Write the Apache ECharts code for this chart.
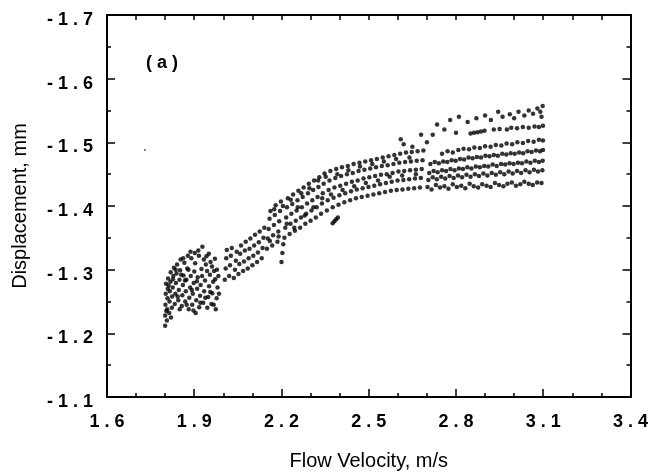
<!DOCTYPE html>
<html>
<head>
<meta charset="utf-8">
<script src="https://cdn.jsdelivr.net/npm/echarts@6/dist/echarts.min.js"></script>
<style>
html,body{margin:0;padding:0;background:#fff;}
#chart{width:651px;height:476px;}
</style>
</head>
<body>
<div id="chart"></div>
<script>
// Tick labels
const xTicks = [1.6, 1.9, 2.2, 2.5, 2.8, 3.1, 3.4];
const yTicks = [-1.7, -1.6, -1.5, -1.4, -1.3, -1.2, -1.1];

const segA = [
[1.800,-1.212],[1.800,-1.228],[1.801,-1.245],[1.802,-1.262],[1.803,-1.278],
[1.806,-1.220],[1.807,-1.238],[1.808,-1.255],[1.809,-1.270],[1.810,-1.286],
[1.814,-1.232],[1.815,-1.250],[1.816,-1.266],[1.818,-1.281],[1.819,-1.296],
[1.823,-1.240],[1.824,-1.258],[1.826,-1.272],[1.828,-1.290],[1.830,-1.303],
[1.833,-1.246],[1.835,-1.262],[1.837,-1.279],[1.839,-1.294],[1.841,-1.308],
[1.845,-1.252],[1.847,-1.268],[1.849,-1.284],[1.851,-1.299],[1.853,-1.316],
[1.857,-1.243],[1.859,-1.260],[1.861,-1.276],[1.863,-1.291],[1.866,-1.311],
[1.869,-1.250],[1.871,-1.266],[1.873,-1.284],[1.876,-1.302],[1.878,-1.322],
[1.881,-1.238],[1.883,-1.256],[1.886,-1.272],[1.888,-1.290],[1.890,-1.318],
[1.893,-1.245],[1.895,-1.262],[1.898,-1.279],[1.900,-1.297],[1.902,-1.326],
[1.905,-1.232],[1.907,-1.252],[1.910,-1.270],[1.912,-1.288],[1.914,-1.330],
[1.917,-1.241],[1.920,-1.259],[1.922,-1.276],[1.925,-1.301],[1.928,-1.336],
[1.931,-1.248],[1.934,-1.266],[1.937,-1.283],[1.940,-1.308],[1.942,-1.321],
[1.945,-1.240],[1.948,-1.257],[1.951,-1.274],[1.954,-1.292],[1.956,-1.312],
[1.959,-1.246],[1.962,-1.263],[1.965,-1.281],[1.968,-1.298],[1.971,-1.317],
[1.974,-1.238],[1.977,-1.255],[1.980,-1.272],[1.983,-1.290]
];
const segA2 = [
[1.804,-1.235],[1.812,-1.275],[1.820,-1.225],[1.827,-1.285],[1.836,-1.300],[1.843,-1.258],
[1.850,-1.238],[1.855,-1.292],[1.862,-1.318],[1.868,-1.283],[1.874,-1.245],[1.880,-1.300],
[1.887,-1.328],[1.892,-1.268],[1.897,-1.236],[1.903,-1.310],[1.909,-1.282],[1.916,-1.322],
[1.921,-1.248],[1.927,-1.290],[1.933,-1.316],[1.938,-1.256],[1.944,-1.298],[1.950,-1.325],
[1.955,-1.265],[1.961,-1.305],[1.967,-1.245],[1.972,-1.285],[1.978,-1.300],[1.985,-1.262]
];
const segB = [
[2.005,-1.284],[2.008,-1.302],[2.010,-1.318],[2.012,-1.331],
[2.020,-1.290],[2.023,-1.307],[2.026,-1.322],[2.029,-1.334],
[2.036,-1.287],[2.040,-1.300],[2.043,-1.314],[2.046,-1.328],
[2.052,-1.293],[2.055,-1.309],[2.058,-1.325],[2.061,-1.338],
[2.068,-1.298],[2.071,-1.313],[2.074,-1.330],[2.077,-1.344],
[2.084,-1.302],[2.087,-1.318],[2.090,-1.333],[2.093,-1.349],
[2.100,-1.307],[2.103,-1.322],[2.106,-1.338],[2.109,-1.355],
[2.116,-1.312],[2.119,-1.327],[2.122,-1.343],[2.125,-1.360],
[2.132,-1.318],[2.135,-1.334],[2.138,-1.350],[2.141,-1.366]
];
const segC = [
[2.150,-1.333],[2.153,-1.349],[2.156,-1.364],[2.159,-1.380],[2.162,-1.392],
[2.168,-1.338],[2.171,-1.354],[2.174,-1.370],[2.177,-1.386],[2.180,-1.401],
[2.186,-1.344],[2.189,-1.360],[2.192,-1.376],[2.195,-1.392],[2.198,-1.407],
[2.200,-1.312],[2.203,-1.326],[2.206,-1.340],
[2.210,-1.350],[2.213,-1.366],[2.216,-1.382],[2.219,-1.398],[2.222,-1.412],
[2.228,-1.356],[2.231,-1.372],[2.234,-1.388],[2.237,-1.403],[2.240,-1.418],
[2.246,-1.361],[2.249,-1.377],[2.252,-1.393],[2.255,-1.409],[2.258,-1.424],
[2.264,-1.366],[2.267,-1.382],[2.270,-1.398],[2.273,-1.414],[2.276,-1.429],
[2.282,-1.372],[2.285,-1.388],[2.288,-1.404],[2.291,-1.420],[2.294,-1.435],
[2.300,-1.377],[2.303,-1.393],[2.306,-1.409],[2.309,-1.425],[2.312,-1.440],
[2.318,-1.382],[2.321,-1.398],[2.324,-1.414],[2.327,-1.430],[2.330,-1.445],
[2.336,-1.388],[2.339,-1.404],[2.342,-1.420],[2.345,-1.435],[2.348,-1.451]
];
const segC2 = [
[2.160,-1.345],[2.175,-1.395],[2.190,-1.352],[2.205,-1.400],[2.218,-1.372],[2.232,-1.410],
[2.244,-1.366],[2.256,-1.398],[2.268,-1.420],[2.280,-1.385],[2.296,-1.428],[2.310,-1.398],
[2.326,-1.440],[2.340,-1.412],[2.352,-1.446],[2.370,-1.418],[2.392,-1.450],[2.410,-1.425],
[2.430,-1.456],[2.450,-1.431],[2.470,-1.462],[2.490,-1.436],[2.512,-1.466],[2.532,-1.440],
[2.552,-1.470],[2.572,-1.446],[2.594,-1.474],[2.615,-1.448],[2.640,-1.476],[2.662,-1.450]
];
const segD = [
[2.356,-1.393],[2.359,-1.409],[2.362,-1.425],[2.365,-1.440],[2.368,-1.455],
[2.376,-1.373],[2.382,-1.376],[2.388,-1.379],[2.394,-1.382],
[2.376,-1.398],[2.379,-1.413],[2.382,-1.429],[2.385,-1.444],[2.388,-1.458],
[2.396,-1.402],[2.399,-1.417],[2.402,-1.432],[2.405,-1.447],[2.408,-1.461],
[2.416,-1.406],[2.419,-1.420],[2.422,-1.435],[2.425,-1.450],[2.428,-1.463],
[2.436,-1.409],[2.439,-1.423],[2.442,-1.438],[2.445,-1.452],[2.448,-1.466],
[2.456,-1.412],[2.459,-1.426],[2.462,-1.440],[2.465,-1.455],[2.468,-1.468],
[2.476,-1.414],[2.479,-1.428],[2.482,-1.443],[2.485,-1.457],[2.488,-1.470],
[2.496,-1.416],[2.499,-1.430],[2.502,-1.445],[2.505,-1.459],[2.508,-1.472],
[2.516,-1.418],[2.519,-1.432],[2.522,-1.447],[2.525,-1.461],[2.528,-1.474],
[2.536,-1.420],[2.539,-1.434],[2.542,-1.449],[2.545,-1.463],[2.548,-1.476]
];
const segE = [
[2.556,-1.422],[2.559,-1.436],[2.562,-1.450],[2.565,-1.464],[2.568,-1.478],
[2.576,-1.424],[2.579,-1.438],[2.582,-1.452],[2.585,-1.466],[2.588,-1.480],
[2.596,-1.425],[2.599,-1.440],[2.602,-1.454],[2.605,-1.468],[2.608,-1.482],
[2.616,-1.426],[2.619,-1.441],[2.622,-1.455],[2.625,-1.469],[2.628,-1.484],
[2.636,-1.427],[2.639,-1.442],[2.642,-1.456],[2.645,-1.470],[2.648,-1.485],
[2.656,-1.428],[2.659,-1.443],[2.662,-1.457],[2.665,-1.471],[2.668,-1.486],
[2.676,-1.429],[2.679,-1.444],[2.682,-1.458],[2.685,-1.472],[2.688,-1.487],
[2.610,-1.505],[2.650,-1.493],[2.680,-1.512],[2.700,-1.500],[2.620,-1.497]
];
const bandA = [
[2.702,-1.430],[2.716,-1.426],[2.731,-1.433],[2.745,-1.429],[2.760,-1.431],[2.774,-1.427],[2.789,-1.434],
[2.803,-1.430],[2.818,-1.432],[2.832,-1.428],[2.847,-1.435],[2.861,-1.431],[2.876,-1.429],[2.890,-1.434],
[2.905,-1.432],[2.919,-1.430],[2.934,-1.436],[2.948,-1.433],[2.963,-1.431],[2.977,-1.435],[2.992,-1.437],
[3.006,-1.432],[3.021,-1.434],[3.035,-1.438],[3.050,-1.435],[3.064,-1.433],[3.079,-1.437],[3.094,-1.436]
];
const bandB = [
[2.705,-1.441],[2.720,-1.445],[2.734,-1.442],[2.749,-1.446],[2.763,-1.443],[2.778,-1.447],[2.792,-1.444],
[2.807,-1.448],[2.821,-1.445],[2.836,-1.449],[2.850,-1.446],[2.865,-1.450],[2.879,-1.447],[2.894,-1.451],
[2.908,-1.448],[2.923,-1.452],[2.937,-1.449],[2.952,-1.453],[2.966,-1.450],[2.981,-1.454],[2.995,-1.451],
[3.010,-1.455],[3.024,-1.452],[3.039,-1.456],[3.053,-1.453],[3.068,-1.457],[3.082,-1.454],[3.097,-1.456]
];
const bandC = [
[2.708,-1.452],[2.723,-1.455],[2.737,-1.453],[2.752,-1.456],[2.766,-1.455],[2.781,-1.458],[2.795,-1.456],
[2.810,-1.459],[2.824,-1.458],[2.839,-1.461],[2.853,-1.459],[2.868,-1.462],[2.882,-1.461],[2.897,-1.463],
[2.911,-1.462],[2.926,-1.465],[2.940,-1.463],[2.955,-1.466],[2.969,-1.465],[2.984,-1.467],[2.998,-1.466],
[3.013,-1.468],[3.027,-1.467],[3.042,-1.470],[3.056,-1.468],[3.071,-1.471],[3.085,-1.469],[3.098,-1.471]
];
const bandD = [
[2.712,-1.466],[2.727,-1.469],[2.741,-1.467],[2.756,-1.470],[2.770,-1.469],[2.785,-1.472],[2.799,-1.471],
[2.814,-1.474],[2.828,-1.473],[2.843,-1.476],[2.857,-1.475],[2.872,-1.477],[2.886,-1.476],[2.901,-1.479],
[2.915,-1.478],[2.930,-1.480],[2.944,-1.479],[2.959,-1.482],[2.973,-1.481],[2.988,-1.483],[3.002,-1.482],
[3.017,-1.484],[3.031,-1.483],[3.046,-1.486],[3.060,-1.485],[3.075,-1.487],[3.089,-1.486],[3.099,-1.488]
];
const bandE = [
[2.752,-1.482],[2.771,-1.486],[2.789,-1.484],[2.808,-1.488],[2.826,-1.490],[2.845,-1.489],[2.863,-1.492],
[2.882,-1.491],[2.900,-1.494],[2.919,-1.493],[2.937,-1.496],[2.956,-1.495],[2.974,-1.498],[2.993,-1.497],
[3.011,-1.500],[3.030,-1.499],[3.048,-1.502],[3.067,-1.501],[3.085,-1.504],[3.099,-1.503]
];
const bandF = [
[2.850,-1.514],[2.862,-1.515],[2.874,-1.516],[2.886,-1.517],[2.898,-1.518],[2.930,-1.520],[2.950,-1.521],
[2.975,-1.520],[2.990,-1.523],[3.010,-1.522],[3.030,-1.524],[3.050,-1.523],[3.070,-1.525],[3.085,-1.524],[3.099,-1.526]
];
const topSparse = [
[2.720,-1.512],[2.735,-1.528],[2.760,-1.520],[2.780,-1.535],[2.800,-1.515],[2.810,-1.540],[2.840,-1.532],
[2.870,-1.538],[2.900,-1.542],[2.920,-1.535],[2.945,-1.548],[2.960,-1.540],[2.985,-1.544],[3.000,-1.538],
[3.015,-1.548],[3.035,-1.542],[3.050,-1.550],[3.065,-1.545],[3.080,-1.553],[3.090,-1.548],[3.098,-1.557],[3.094,-1.540]
];
const stray = [[1.730,-1.488]];

const FONT = '"Liberation Sans", Arial, Helvetica, sans-serif';
const spaced = s => s.split('').join(' ');
const fmt = v => spaced(v.toFixed(1));

const chart = echarts.init(document.getElementById('chart'), null, {renderer: 'canvas'});
const dots = [segA, segA2, segB, segC, segC2, segD, segE, bandA, bandB, bandC, bandD, bandE, bandF, topSparse];
const series = dots.map(d => ({
  type: 'scatter', data: d, symbol: 'circle', symbolSize: 4.5,
  itemStyle: {color: '#000'}, silent: true, animation: false
}));
series.push({type: 'scatter', data: stray, symbolSize: 2, itemStyle: {color: '#333'}, animation: false, silent: true});

const lineStyle = {color: '#000', width: 2};
const tickStyle = {color: '#000', width: 1.5};
chart.setOption({
  backgroundColor: '#fff',
  animation: false,
  grid: {left: 107, right: 20, top: 15, bottom: 79, containLabel: false},
  graphic: [{
    type: 'text', left: 146, top: 54,
    style: {text: '( a )', font: 'bold 18px ' + FONT, fill: '#000'}
  }],
  xAxis: [{
    type: 'value', position: 'bottom', min: 1.6, max: 3.4, interval: 0.1,
    axisLine: {show: true, lineStyle: lineStyle},
    axisTick: {show: true, inside: true, length: 8, customValues: xTicks, lineStyle: tickStyle},
    axisLabel: {show: true, customValues: xTicks, formatter: v => fmt(v), margin: 16,
      fontSize: 18, fontWeight: 'bold', fontFamily: FONT, color: '#000'},
    splitLine: {show: false},
    name: 'Flow Velocity, m/s', nameLocation: 'middle', nameGap: 54,
    nameTextStyle: {fontSize: 20, fontFamily: FONT, color: '#000'}
  }, {
    type: 'value', position: 'bottom', min: 1.6, max: 3.4, interval: 0.1,
    axisLine: {show: false},
    axisTick: {show: true, inside: true, length: 4, lineStyle: tickStyle},
    axisLabel: {show: false}, splitLine: {show: false}
  }, {
    type: 'value', position: 'top', min: 1.6, max: 3.4, interval: 0.1,
    axisLine: {show: true, lineStyle: lineStyle},
    axisTick: {show: true, inside: true, length: 5, lineStyle: tickStyle},
    axisLabel: {show: false}, splitLine: {show: false}
  }],
  yAxis: [{
    type: 'value', position: 'left', inverse: true, min: -1.7, max: -1.1, interval: 0.1,
    axisLine: {show: true, lineStyle: lineStyle},
    axisTick: {show: true, inside: true, length: 8, lineStyle: tickStyle},
    minorTick: {show: true, splitNumber: 2, length: 4, lineStyle: tickStyle},
    axisLabel: {show: true, formatter: v => fmt(v), margin: 14, verticalAlign: 'top', lineHeight: 10,
      fontSize: 18, fontWeight: 'bold', fontFamily: FONT, color: '#000'},
    splitLine: {show: false},
    name: 'Displacement, mm', nameLocation: 'middle', nameGap: 77,
    nameTextStyle: {fontSize: 20, fontFamily: FONT, color: '#000'}
  }, {
    type: 'value', position: 'right', inverse: true, min: -1.7, max: -1.1, interval: 0.1,
    axisLine: {show: true, lineStyle: lineStyle},
    axisTick: {show: true, inside: true, length: 8, lineStyle: tickStyle},
    minorTick: {show: true, splitNumber: 2, length: 4, lineStyle: tickStyle},
    axisLabel: {show: false}, splitLine: {show: false}
  }],
  series: series
});
</script>
</body>
</html>
